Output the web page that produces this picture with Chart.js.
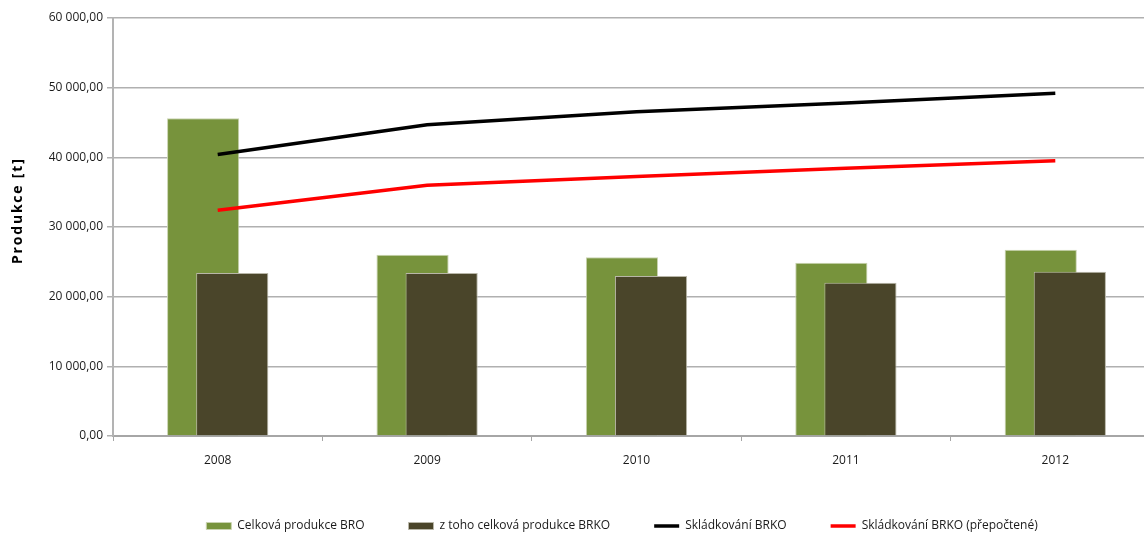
<!DOCTYPE html>
<html>
<head>
<meta charset="utf-8">
<script src="https://cdn.jsdelivr.net/npm/chart.js@4/dist/chart.umd.min.js"></script>
<style>
  html, body { margin: 0; padding: 0; background: #fff; overflow: hidden; }
  #wrap { width: 1160px; height: 533px; }
</style>
</head>
<body>
<div id="wrap"><canvas id="graf"></canvas></div>
<script>
// data
const roky = ['2008', '2009', '2010', '2011', '2012'];
const produkceBRO = [45600, 26030, 25640, 24880, 26750];
const produkceBRKO = [23380, 23380, 22950, 22000, 23580];
const skladkovani = [40420, 44680, 46550, 47800, 49190];
const skladkovaniPrepoctene = [32400, 36000, 37250, 38450, 39500];
const yTicks = [0, 10000, 20000, 30000, 40000, 50000, 60000];

const pismo = "'Open Sans', 'Noto Sans', sans-serif";

// formát 60 000,00
function formatCislo(v) {
    const s = Math.round(v).toString().replace(/\B(?=(\d{3})+(?!\d))/g, ' ');
    return s + ',00';
}

// tmavé sloupce kreslit přes zelené, legendu posunout doprava,
// popisek osy y s prostrkáním
const upravy = {
    id: 'upravy',
    afterLayout(chart) {
        chart.legend.left += 42;
        chart.legend.right += 42;
        const osa = chart.scales.y;
        if (!osa._prostrkano) {
            const puvodni = osa.drawTitle;
            osa.drawTitle = function () {
                const ctx = this.ctx;
                ctx.save();
                ctx.letterSpacing = '1.8px';
                puvodni.call(this);
                ctx.restore();
            };
            osa._prostrkano = true;
        }
    },
    beforeDatasetDraw(chart, args) {
        if (args.index === 1) return false;
    },
    afterDatasetDraw(chart, args) {
        if (args.index === 0) {
            const meta = chart.getDatasetMeta(1);
            if (!meta.hidden) meta.controller.draw();
        }
    }
};

new Chart(document.getElementById('graf'), {
    data: {
        labels: roky,
        datasets: [
            {
                type: 'bar',
                label: 'Celková produkce BRO',
                data: produkceBRO,
                backgroundColor: '#77933c',
                borderColor: '#c9d3b0',
                borderWidth: 1,
                pointStyle: 'rect',
                categoryPercentage: 0.278,
                barPercentage: 2.48
            },
            {
                type: 'bar',
                label: 'z toho celková produkce BRKO',
                data: produkceBRKO,
                backgroundColor: '#4a452a',
                borderColor: '#b8b6a8',
                borderWidth: 1,
                pointStyle: 'rect',
                categoryPercentage: 0.278,
                barPercentage: 2.48
            },
            {
                type: 'line',
                label: 'Skládkování BRKO',
                data: skladkovani,
                borderColor: '#000000',
                backgroundColor: '#000000',
                borderWidth: 3.5,
                pointRadius: 0,
                pointStyle: 'line',
                tension: 0,
                order: -1
            },
            {
                type: 'line',
                label: 'Skládkování BRKO (přepočtené)',
                data: skladkovaniPrepoctene,
                borderColor: '#ff0000',
                backgroundColor: '#ff0000',
                borderWidth: 3.5,
                pointRadius: 0,
                pointStyle: 'line',
                tension: 0,
                order: -1
            }
        ]
    },
    options: {
        responsive: true,
        maintainAspectRatio: false,
        animation: false,
        layout: { padding: { top: 18, left: 0, right: 0, bottom: 0 } },
        plugins: {
            tooltip: { enabled: false },
            legend: {
                position: 'bottom',
                maxHeight: 57,
                labels: {
                    usePointStyle: true,
                    pointStyleWidth: 25,
                    boxHeight: 7,
                    padding: 44,
                    color: '#1a1a1a',
                    font: { family: pismo, size: 12 },
                    sort: (a, b) => a.datasetIndex - b.datasetIndex
                }
            }
        },
        scales: {
            x: {
                offset: true,
                grid: {
                    offset: true,
                    drawOnChartArea: false,
                    drawTicks: true,
                    tickLength: 5,
                    color: '#a6a6a6'
                },
                border: { display: true, color: '#a6a6a6', width: 2 },
                ticks: {
                    color: '#1a1a1a',
                    padding: 12,
                    font: { family: pismo, size: 12 }
                },
                afterFit(s) { s.height = 40; }
            },
            y: {
                min: 0,
                max: 60000,
                afterBuildTicks(s) { s.ticks = yTicks.map(v => ({ value: v })); },
                grid: {
                    color: '#b0b0b0',
                    lineWidth: 1.5,
                    tickLength: 6
                },
                border: { display: true, color: '#b3b3b3', width: 2 },
                ticks: {
                    color: '#1a1a1a',
                    padding: 4,
                    font: { family: pismo, size: 12 },
                    callback: (v) => formatCislo(v)
                },
                title: {
                    display: true,
                    text: '      Produkce [t]',
                    color: '#000',
                    padding: { top: 10, bottom: 8 },
                    font: { family: pismo, size: 14, weight: 'bold' }
                },
                afterFit(s) { s.width = 113; }
            }
        }
    },
    plugins: [upravy]
});
</script>
</body>
</html>
